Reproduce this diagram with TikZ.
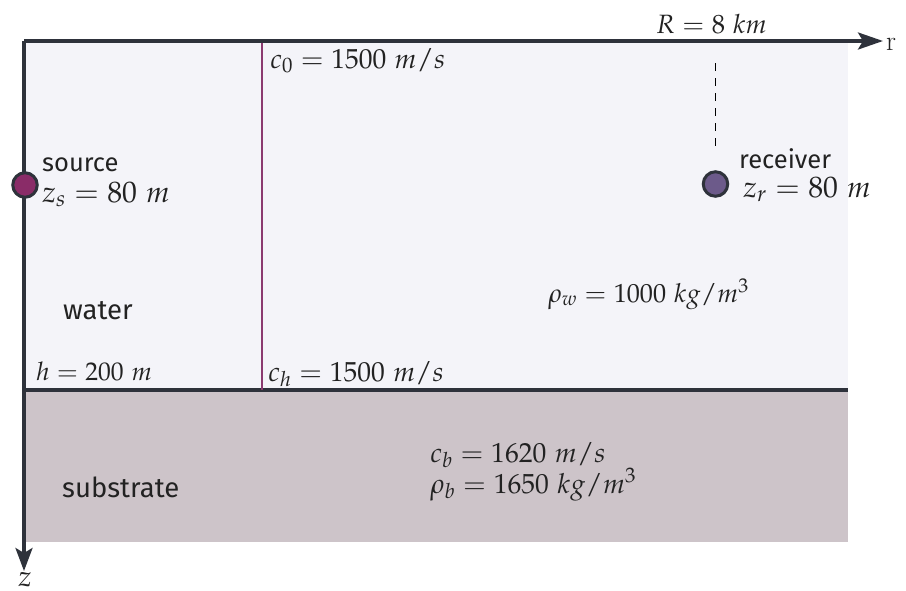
\documentclass[tikz,border=0pt]{standalone}
\usepackage{mathpazo}
\usepackage{fontspec}
\setsansfont{Fira Sans}
\usetikzlibrary{arrows.meta}
\definecolor{waterc}{HTML}{F4F4F9}
\definecolor{subc}{HTML}{CDC4C9}
\definecolor{axisc}{HTML}{2E323B}
\definecolor{purp}{HTML}{8B3A70}
\definecolor{srcc}{HTML}{8A2C68}
\definecolor{rcvc}{HTML}{6C5A8A}
\definecolor{txtc}{HTML}{222222}
\newcommand{\fsz}[1]{\fontsize{#1}{#1}\selectfont}
\tikzset{
  mtxt/.style={anchor=base west, inner sep=0pt, text=txtc, font=\fsz{27.5}},
  stxt/.style={anchor=base west, inner sep=0pt, text=txtc, font=\sffamily\fsz{25.5}},
  axis/.style={draw=axisc, line width=3.3pt},
  dot/.style={circle, draw=axisc, line width=3pt, minimum size=24.5pt, inner sep=0pt}
}
\begin{document}
\begin{tikzpicture}[x=1pt,y=-1pt]
\useasboundingbox (0,0) rectangle (906,590);
\fill[waterc] (24,41) rectangle (848,390);
\fill[subc] (24,390) rectangle (848,542);
\draw[axis] (24,390) -- (848,390);
\draw[purp, line width=2.8pt] (262,41) -- (262,390);
\coordinate (O) at (24,41);
\coordinate (rEnd) at (883,41);
\coordinate (zEnd) at (24,571);
\draw[axis, -{Stealth[length=25pt,width=17pt,inset=5pt]}] (O) -- (rEnd);
\draw[axis, -{Stealth[length=23pt,width=17pt,inset=5pt]}] (O) -- (zEnd);
\node[anchor=base west, inner sep=0pt, text=txtc, font=\fsz{28}] (rlab) at (886,50) {r};
\node[anchor=base, inner sep=0pt, text=txtc, font=\fsz{29}] (zlab) at (25,586) {$z$};
\node[dot, fill=srcc] (src) at (25,185) {};
\node[dot, fill=rcvc] (rcv) at (715.5,184) {};
\coordinate (dtop) at (715,63);
\coordinate (dbot) at (715,152);
\draw[black, line width=1pt, dash pattern=on 8pt off 7pt] (dtop) -- (dbot);
\node[mtxt, anchor=base, font=\fsz{26.5}] (R) at (711.5,33) {$R = 8\ km$};
\node[mtxt] (c0) at (270,68) {$c_0 = 1500\ m/s$};
\node[stxt] (srcl) at (42,171) {source};
\node[mtxt, font=\fsz{29.7}] (zs) at (42,202) {$z_s = 80\ m$};
\node[stxt] (rcvl) at (739,168) {receiver};
\node[mtxt, font=\fsz{29.7}] (zr) at (743,197) {$z_r = 80\ m$};
\node[stxt, font=\sffamily\fsz{27.5}] (water) at (63,319) {water};
\node[mtxt, font=\fsz{26.2}] (rhow) at (548,302) {$\rho_w = 1000\ kg/m^3$};
\node[mtxt, font=\fsz{25.6}] (h) at (36,380) {$h = 200\ m$};
\node[mtxt] (ch) at (268,381) {$c_h = 1500\ m/s$};
\node[mtxt, font=\fsz{27.6}] (cb) at (430,462) {$c_b = 1620\ m/s$};
\node[mtxt, font=\fsz{27.6}] (rhob) at (430,493) {$\rho_b = 1650\ kg/m^3$};
\node[stxt, font=\sffamily\fsz{27.5}] (sub) at (62,497) {substrate};
\end{tikzpicture}
\end{document}
